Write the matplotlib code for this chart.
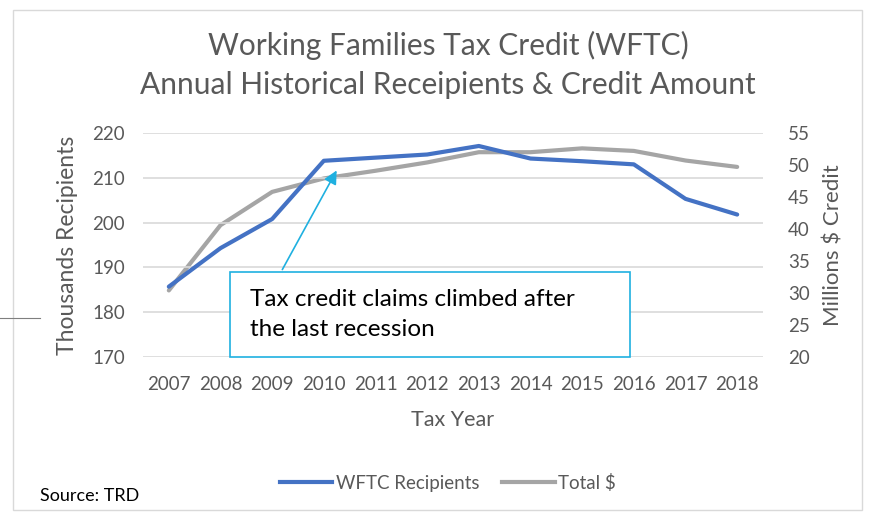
import matplotlib.pyplot as plt
from matplotlib.patches import Rectangle
from matplotlib.lines import Line2D

years = [2007, 2008, 2009, 2010, 2011, 2012, 2013, 2014, 2015, 2016, 2017, 2018]
recipients = [185.7, 194.3, 200.8, 213.8, 214.5, 215.2, 217.1, 214.3, 213.7, 213.0, 205.3, 201.8]
credit = [30.4, 40.6, 45.8, 47.9, 49.1, 50.4, 52.0, 52.0, 52.6, 52.2, 50.7, 49.7]

left_ticks = [170, 180, 190, 200, 210, 220]
right_ticks = [20, 25, 30, 35, 40, 45, 50, 55]

BLUE = '#4472C4'
GREY = '#A5A5A5'
TXT = '#595959'

plt.rcParams['font.family'] = ['Lato', 'DejaVu Sans']

W, H = 876, 515
fig = plt.figure(figsize=(W / 100, H / 100), dpi=100)

def fx(px):
    return px / W

def fy(py):
    return 1 - py / H

# outer chart border
fig.add_artist(Rectangle((fx(13), fy(510)), fx(862 - 13), (505 - 5) / H,
                         transform=fig.transFigure, fill=False,
                         edgecolor='#D9D9D9', lw=1))
fig.add_artist(Line2D([0, fx(40)], [fy(318), fy(318)], transform=fig.transFigure,
                      color='#7F7F7F', lw=0.8))

ax = fig.add_axes([fx(143), fy(357), fx(763 - 143), (357 - 133) / H])
ax2 = ax.twinx()

ax.set_xlim(2006.5, 2018.5)
ax.set_ylim(170, 220)
ax2.set_ylim(20, 55)
ax.set_yticks(left_ticks)
ax2.set_yticks(right_ticks)
ax.set_xticks(years)
ax.grid(axis='y', color='#D9D9D9', lw=1.2)
ax.set_axisbelow(True)

for a in (ax, ax2):
    for s in a.spines.values():
        s.set_visible(False)
    a.tick_params(length=0, labelsize=13.5, colors=TXT)
ax.tick_params(axis='x', pad=14)
ax.tick_params(axis='y', pad=13)
ax2.tick_params(axis='y', pad=18)

ax.plot(years, recipients, color=BLUE, lw=3, solid_capstyle='round', zorder=3)
ax2.plot(years, credit, color=GREY, lw=3, solid_capstyle='round', zorder=2)
ax.set_zorder(ax2.get_zorder() + 1)
ax.patch.set_visible(False)

ax.set_ylabel('Thousands Recipients', fontsize=16.5, color=TXT, labelpad=10)
ax2.set_ylabel('Millions $ Credit', fontsize=16, color=TXT, labelpad=10)
ax.set_xlabel('Tax Year', fontsize=15.5, color=TXT, labelpad=12)

fig.text(fx(448), fy(45), 'Working Families Tax Credit (WFTC)', ha='center',
         va='center', fontsize=21.5, color=TXT)
fig.text(fx(448), fy(85), 'Annual Historical Receipients & Credit Amount',
         ha='center', va='center', fontsize=21.5, color=TXT)

# callout box and arrow
fig.add_artist(Rectangle((fx(230), fy(357)), fx(630 - 230), (357 - 272) / H,
                         transform=fig.transFigure, facecolor='white',
                         edgecolor='#1FB0E0', lw=1.2, zorder=5))
fig.text(fx(250), fy(299), 'Tax credit claims climbed after', fontsize=17.5,
         color='black', va='center', zorder=6)
fig.text(fx(250), fy(330), 'the last recession', fontsize=17.5,
         color='black', va='center', zorder=6)
ax.annotate('', xy=(fx(338), fy(168)), xytext=(fx(281), fy(272)),
            xycoords='figure fraction', textcoords='figure fraction',
            arrowprops=dict(arrowstyle='-|>', color='#1FB0E0', lw=1.2,
                            mutation_scale=20), zorder=6)

# legend
handles = [Line2D([], [], color=BLUE, lw=3), Line2D([], [], color=GREY, lw=3)]
fig.legend(handles, ['WFTC Recipients', 'Total $'], loc='center',
           bbox_to_anchor=(fx(448), fy(483)), ncol=2, frameon=False,
           fontsize=13.5, labelcolor=TXT, handlelength=2.8, handletextpad=0.2,
           columnspacing=1.2)

fig.text(fx(40), fy(496), 'Source: TRD', fontsize=13, color='black', va='center')

fig.savefig('out.png', dpi=100)
